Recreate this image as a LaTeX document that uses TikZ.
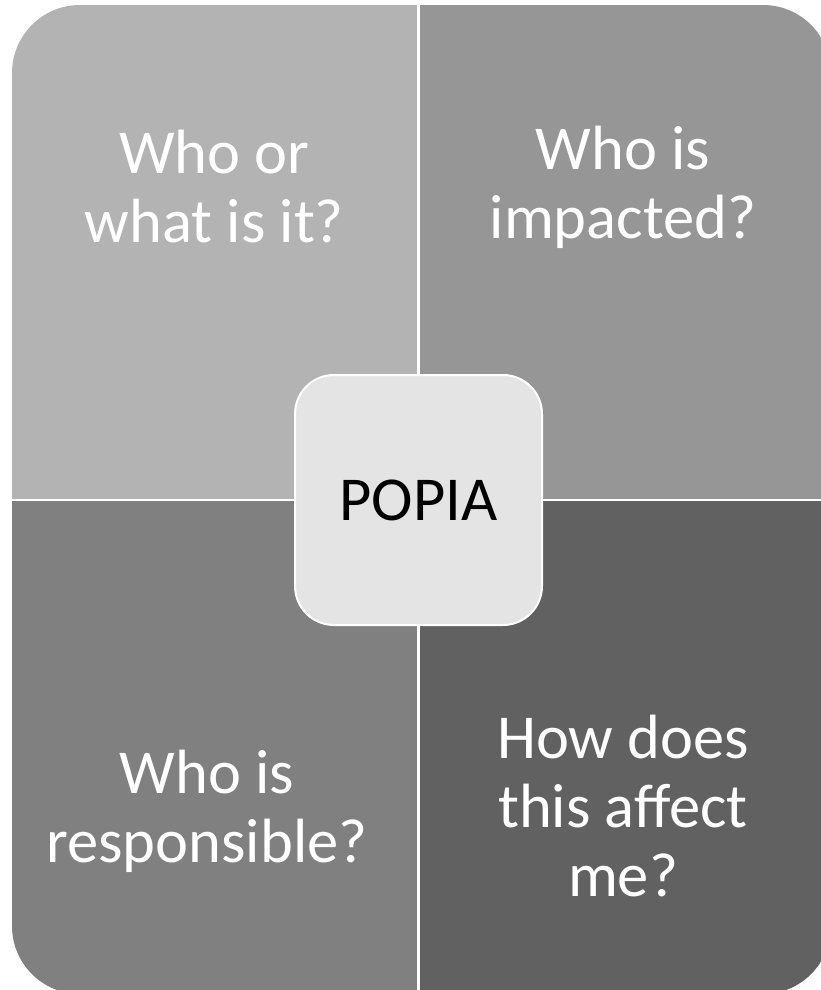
\documentclass[tikz,border=0pt]{standalone}
\usepackage{fontspec}
\setmainfont{Carlito}
\definecolor{paneA}{HTML}{B3B3B3}
\definecolor{paneB}{HTML}{969696}
\definecolor{paneC}{HTML}{808080}
\definecolor{paneD}{HTML}{616161}
\definecolor{hubfill}{HTML}{E4E4E4}
\begin{document}
\begin{tikzpicture}[
  x=1pt,y=-1pt,
  pane/.style={text=white,align=center,inner sep=0pt,anchor=base,
    font=\fontsize{62.5}{69}\selectfont},
  hub/.style={draw=white,line width=2pt,fill=hubfill,rounded corners=39pt,
    minimum width=247pt,minimum height=250pt,inner sep=0pt,
    font=\fontsize{62.5}{69}\selectfont}
]
\useasboundingbox (0,0) rectangle (821,990);
% the four panes
\begin{scope}
  \clip[rounded corners=68pt] (12,5) rectangle (831,994);
  \fill[paneA] (12,5) rectangle (417,498.5);
  \fill[paneB] (420,5) rectangle (831,498.5);
  \fill[paneC] (12,501) rectangle (417,994);
  \fill[paneD] (420,501) rectangle (831,994);
\end{scope}
% texts
\node[pane] (what) at (214.5,242) {Who or\\what is it?};
\node[pane] (impact) at (623,238) {Who is\\impacted?};
\node[pane] (resp) at (207,862) {Who is\\responsible?};
\node[pane] (affect) at (623,896) {How does\\this affect\\me?};
% the hub
\node[hub] (popia) at (418.5,500) {POPIA};
\end{tikzpicture}
\end{document}
